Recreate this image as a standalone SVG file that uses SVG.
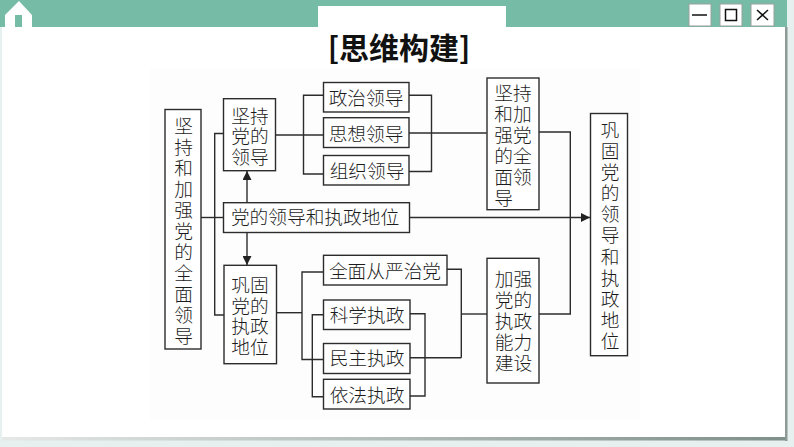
<svg xmlns="http://www.w3.org/2000/svg" width="794" height="447" viewBox="0 0 794 447">
<defs>
<linearGradient id="sh" x1="0" x2="1" y1="0" y2="0"><stop offset="0" stop-color="#e4e8e7"/><stop offset="1" stop-color="#7f8f8a"/></linearGradient>
<marker id="ah" markerUnits="userSpaceOnUse" markerWidth="10" markerHeight="9" refX="9" refY="4.500" orient="auto"><path d="M0 0L9 4.500L0 9Z" fill="#222"/></marker>
</defs>
<style>
.n{fill:#fff;stroke:#2c2c2c;stroke-width:1.4}
.c{fill:none;stroke:#2c2c2c;stroke-width:1.4}
.t{font-family:"Noto Sans CJK SC","Noto Sans CJK JP",sans-serif;font-size:18.7px;font-weight:300;fill:#1c1c1c;text-anchor:middle;dominant-baseline:central;transform:translateY(-1.2px)}
.b{fill:#fff;stroke:#9a9f9d;stroke-width:1}
.g{fill:none;stroke:#111;stroke-width:1.5}
</style>
<rect width="794" height="447" fill="#e6f0ef"/>
<rect x="2" y="27" width="783" height="410" fill="#fff"/>
<rect x="2" y="437" width="785" height="3.500" fill="url(#sh)"/>
<rect x="785" y="27" width="2.500" height="414" fill="#8d9a96"/>
<rect x="150" y="68" width="490" height="352" fill="#fdfdfd"/>
<rect x="0" y="0" width="787" height="27" fill="#76bba5"/>
<rect x="318" y="6" width="188" height="21" fill="#fff"/>
<path d="M5 15L19 1L32 15V27H5Z" fill="#fff"/><rect x="15" y="15" width="7" height="12" fill="#76bba5"/>
<g id="window-buttons">
<rect class="b" x="689" y="4" width="22" height="22"/><path class="g" d="M692 15H707"/>
<rect class="b" x="720" y="4" width="22" height="22"/><rect class="g" x="725.500" y="9.500" width="11" height="11"/>
<rect class="b" x="751" y="4" width="23" height="22"/><path class="g" d="M757 10L768 20M768 10L757 20"/>
</g>
<text x="399" y="45.500" font-family="'Noto Sans CJK SC',sans-serif" font-size="30" font-weight="700" fill="#111" text-anchor="middle" dominant-baseline="central">[思维构建]</text>
<g id="connectors">
<path class="c" d="M201 217.500H223.500"/>
<path class="c" d="M223.500 133.500H214.700V315H224"/>
<path class="c" marker-end="url(#ah)" d="M247 202.700V171"/>
<path class="c" marker-end="url(#ah)" d="M247 232.500V265"/>
<path class="c" d="M275.500 135H323.500"/>
<path class="c" d="M323.500 95.300H303.500V174H323.500"/>
<path class="c" d="M409 95.300H431.500V171.500H409"/>
<path class="c" d="M409 133H486.700"/>
<path class="c" d="M539 132H570.300V314H539"/>
<path class="c" marker-end="url(#ah)" d="M409.500 217.500H590"/>
<path class="c" d="M276.500 312.700H302"/>
<path class="c" d="M323.500 272H302V359.500H323.500"/>
<path class="c" d="M323.500 314.700H312.300V396.700H323.500"/>
<path class="c" d="M410 313.700H425V396H410"/>
<path class="c" d="M410 357.700H461.300"/>
<path class="c" d="M447 269.300H461.300V357.700"/>
<path class="c" d="M461.300 314H487"/>
</g>
<g id="n-left"><rect class="n" x="165" y="109.500" width="36" height="239.500"/>
<text class="t"><tspan x="183.700" y="125">坚</tspan><tspan x="183.700" y="146">持</tspan><tspan x="183.700" y="167">和</tspan><tspan x="183.700" y="188">加</tspan><tspan x="183.700" y="209">强</tspan><tspan x="183.700" y="230">党</tspan><tspan x="183.700" y="251">的</tspan><tspan x="183.700" y="272">全</tspan><tspan x="183.700" y="293">面</tspan><tspan x="183.700" y="314">领</tspan><tspan x="183.700" y="335">导</tspan></text></g>
<g id="n-lead"><rect class="n" x="223.500" y="98.700" width="52" height="72"/>
<text class="t"><tspan x="250" y="115">坚持</tspan><tspan x="250" y="135.500">党的</tspan><tspan x="250" y="156">领导</tspan></text></g>
<g id="n-zhengzhi"><rect class="n" x="323.500" y="82.500" width="85.500" height="29.500"/><text class="t" x="366" y="98">政治领导</text></g>
<g id="n-sixiang"><rect class="n" x="323.500" y="117.700" width="85.500" height="29.800"/><text class="t" x="366" y="133.500">思想领导</text></g>
<g id="n-zuzhi"><rect class="n" x="323.500" y="155.500" width="85.500" height="29.500"/><text class="t" x="367" y="171">组织领导</text></g>
<g id="n-center"><rect class="n" x="223.500" y="202.700" width="186" height="29.800"/><text class="t" x="315" y="217">党的领导和执政地位</text></g>
<g id="n-consolidate"><rect class="n" x="224" y="265.300" width="52.500" height="98.400"/>
<text class="t"><tspan x="250" y="284">巩固</tspan><tspan x="250" y="305">党的</tspan><tspan x="250" y="325.500">执政</tspan><tspan x="250" y="346">地位</tspan></text></g>
<g id="n-quanmian"><rect class="n" x="323.500" y="255.300" width="123.500" height="29.700"/><text class="t" x="385" y="271">全面从严治党</text></g>
<g id="n-kexue"><rect class="n" x="323.500" y="300" width="86.500" height="29.500"/><text class="t" x="367" y="315">科学执政</text></g>
<g id="n-minzhu"><rect class="n" x="323.500" y="343.500" width="86.500" height="30"/><text class="t" x="367" y="358">民主执政</text></g>
<g id="n-yifa"><rect class="n" x="323.500" y="379.300" width="86.500" height="29.700"/><text class="t" x="367" y="395">依法执政</text></g>
<g id="n-r1"><rect class="n" x="487" y="78" width="52" height="131.700"/>
<text class="t"><tspan x="513" y="92">坚持</tspan><tspan x="513" y="113">和加</tspan><tspan x="513" y="134">强党</tspan><tspan x="513" y="155">的全</tspan><tspan x="513" y="176">面领</tspan><tspan x="503.500" y="197">导</tspan></text></g>
<g id="n-r2"><rect class="n" x="487" y="258.300" width="52" height="124.700"/>
<text class="t"><tspan x="513.500" y="278">加强</tspan><tspan x="513.500" y="299">党的</tspan><tspan x="513.500" y="320">执政</tspan><tspan x="513.500" y="341">能力</tspan><tspan x="513.500" y="362">建设</tspan></text></g>
<g id="n-right"><rect class="n" x="590.500" y="113.500" width="37" height="242.200"/>
<text class="t"><tspan x="610" y="129">巩</tspan><tspan x="610" y="150">固</tspan><tspan x="610" y="171">党</tspan><tspan x="610" y="192">的</tspan><tspan x="610" y="213">领</tspan><tspan x="610" y="234">导</tspan><tspan x="610" y="256">和</tspan><tspan x="610" y="277">执</tspan><tspan x="610" y="298">政</tspan><tspan x="610" y="319">地</tspan><tspan x="610" y="340">位</tspan></text></g>
</svg>
